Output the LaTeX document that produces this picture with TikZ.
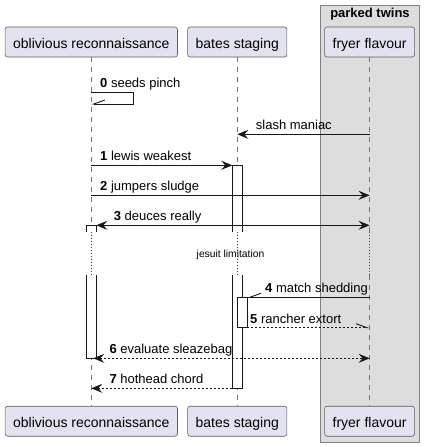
\documentclass[tikz,border=0pt]{standalone}
\usepackage{fontspec}
\setmainfont{Liberation Sans}
\usetikzlibrary{arrows.meta}
\definecolor{boxfill}{HTML}{E2E2F0}
\definecolor{ink}{HTML}{181818}
\definecolor{groupfill}{HTML}{DDDDDD}
\definecolor{delayred}{HTML}{A80036}

\tikzset{
    actor/.style={draw=ink!70, fill=boxfill, line width=0.6pt, rounded corners=2.5pt,
        minimum height=30pt, inner xsep=8pt, text height=13pt, text depth=0pt,
        font=\fontsize{14}{16}\selectfont},
    lifeline/.style={draw=ink!60, line width=0.6pt, dash pattern=on 5pt off 5pt},
    delayline/.style={draw=delayred, line width=0.8pt, dash pattern=on 1pt off 2pt},
    bar/.style={draw=ink, fill=white, line width=0.8pt},
    msg/.style={draw=ink, line width=0.9pt},
    reply/.style={msg, dash pattern=on 2pt off 2pt},
    solidhead/.style={-{Stealth[length=11pt,width=9pt,inset=4pt]}},
    bothheads/.style={{Stealth[length=11pt,width=9pt,inset=4pt]}-{Stealth[length=11pt,width=9pt,inset=4pt]}},
    halfup/.style={-{Straight Barb[left,length=11pt,width=8pt]}},
    halfdown/.style={-{Straight Barb[right,length=11pt,width=8pt]}},
    lbl/.style={font=\fontsize{13}{15}\selectfont, inner sep=0pt, anchor=base west},
}

\begin{document}
\begin{tikzpicture}[x=1pt, y=-1pt]
    \useasboundingbox (0,0) rectangle (423,447);
    % Group box
    \draw[fill=groupfill, draw=black!50, line width=0.8pt] (320.7,5) rectangle (419.3,442);
    \node[font=\bfseries\fontsize{13}{15}\selectfont, anchor=base] (grp) at (370,17.5) {parked twins};
    % Participants
    \node[actor] (obl) at (91.3,42) {oblivious reconnaissance};
    \node[actor] (bates) at (237.3,42) {bates staging};
    \node[actor] (fryer) at (369.6,42) {fryer flavour};
    \node[actor] (obl-b) at (91.3,421.2) {oblivious reconnaissance};
    \node[actor] (bates-b) at (237.3,421.2) {bates staging};
    \node[actor] (fryer-b) at (369.6,421.2) {fryer flavour};
    % Lifelines with delay
    \foreach \p in {obl,bates,fryer} {
        \draw[lifeline] (\p.south) -- (\p |- 0,231.7);
        \draw[delayline] (\p |- 0,231.7) -- (\p |- 0,275);
        \draw[lifeline] (\p |- 0,275) -- (\p-b.north);
    }
    \node[font=\fontsize{10.3}{12}\selectfont] (delay) at (230.5,255.3) {jesuit limitation};
    % Activations
    \draw[bar] (232.3,232.3) |- (242.3,165.3) -- (242.3,232.3);
    \draw[bar] (232.3,275) |- (242.3,388.3) -- (242.3,275);
    \draw[bar] (86.3,232.3) |- (96.3,225.3) -- (96.3,232.3);
    \draw[bar] (86.3,275) |- (96.3,358.3) -- (96.3,275);
    \draw[bar] (237.3,297.3) rectangle (247.3,327.7);
    \coordinate (bates-in) at (232.3,165.3);
    \coordinate (bates-out) at (232.3,388.3);
    \coordinate (obl-in) at (96.3,225.3);
    \coordinate (obl-out) at (93.3,358.3);
    \coordinate (inner-in) at (247.3,297.3);
    \coordinate (inner-out) at (247.3,327.7);
    % Messages
    \draw[msg, halfdown] (obl |- 0,92) -| (133.3,104) -- (obl |- 0,104);
    \node[lbl] (t0) at (100,87.5) {\textbf{0} seeds pinch};
    \draw[msg, solidhead] (fryer |- 0,134.3) -- (bates |- 0,134.3);
    \node[lbl] (t-slash) at (255.7,129.8) {slash maniac};
    \draw[msg, solidhead] (obl |- 0,165.3) -- (bates-in);
    \node[lbl] (t1) at (100,160.8) {\textbf{1} lewis weakest};
    \draw[msg, solidhead] (obl |- 0,195.3) -- (fryer |- 0,195.3);
    \node[lbl] (t2) at (100,190.8) {\textbf{2} jumpers sludge};
    \draw[msg, bothheads] (obl-in) -- (fryer |- 0,225.3);
    \node[lbl] (t3) at (113.7,220.8) {\textbf{3} deuces really};
    \draw[msg, halfdown] (fryer |- 0,297.3) -- (inner-in);
    \node[lbl] (t4) at (265,292.8) {\textbf{4} match shedding};
    \draw[reply, halfup] (inner-out) -- (fryer |- 0,327.7);
    \node[lbl] (t5) at (250,323.2) {\textbf{5} rancher extort};
    \draw[reply, bothheads] (obl-out) -- (fryer |- 0,358.3);
    \node[lbl] (t6) at (109.3,353.8) {\textbf{6} evaluate sleazebag};
    \draw[reply, solidhead] (bates-out) -- (obl |- 0,388.3);
    \node[lbl] (t7) at (109.3,383.8) {\textbf{7} hothead chord};
\end{tikzpicture}
\end{document}
